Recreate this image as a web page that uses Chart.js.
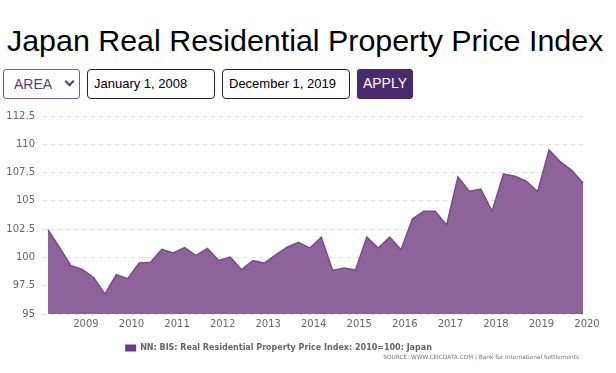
<!DOCTYPE html>
<html>
<head>
<meta charset="utf-8">
<script src="https://cdn.jsdelivr.net/npm/chart.js@4.4.1/dist/chart.umd.min.js"></script>
<style>
  html, body { margin: 0; padding: 0; background: #fff; }
  body { width: 616px; height: 373px; position: relative; overflow: hidden; font-family: "Liberation Sans", Arial, sans-serif; }
  .title { position: absolute; left: 7px; top: 25px; font-size: 30.4px; line-height: 1; color: #000; white-space: nowrap; }
  .ctl { position: absolute; top: 69px; height: 30px; box-sizing: border-box; font-size: 13px; line-height: 28px; white-space: nowrap; }
  .select { left: 3px; width: 77px; border: 1px solid #7a5a96; border-radius: 3px; color: #5b3a7c; padding-left: 10px; font-size: 14px; }
  .select .chev { position: absolute; left: 62px; top: 8px; width: 5px; height: 5px; border-right: 2.5px solid #5b3a7c; border-bottom: 2.5px solid #5b3a7c; transform: rotate(45deg); }
  .date { border: 1px solid #222; border-radius: 4px; color: #000; padding-left: 6px; }
  .d1 { left: 87px; width: 128px; }
  .d2 { left: 222px; width: 128px; }
  .apply { left: 357px; width: 56px; background: #4a2a6c; color: #fff; border-radius: 3px; text-align: center; font-size: 14px; }
  #wrap { position: absolute; left: 0; top: 100px; width: 616px; height: 262px; }
  .source { position: absolute; right: 37px; top: 354px; font-family: "DejaVu Sans", sans-serif; font-size: 5.8px; color: #777; white-space: nowrap; }
</style>
</head>
<body>
<div class="title">Japan Real Residential Property Price Index</div>
<div class="ctl select">AREA<span class="chev"></span></div>
<div class="ctl date d1">January 1, 2008</div>
<div class="ctl date d2">December 1, 2019</div>
<div class="ctl apply">APPLY</div>
<div id="wrap"><canvas id="chart"></canvas></div>
<div class="source">SOURCE: WWW.CEICDATA.COM | Bank for International Settlements</div>
<script>
// quarter-end months, 2008Q1 .. 2019Q4
const DATES = [
  '2008-03', '2008-06', '2008-09', '2008-12',
  '2009-03', '2009-06', '2009-09', '2009-12',
  '2010-03', '2010-06', '2010-09', '2010-12',
  '2011-03', '2011-06', '2011-09', '2011-12',
  '2012-03', '2012-06', '2012-09', '2012-12',
  '2013-03', '2013-06', '2013-09', '2013-12',
  '2014-03', '2014-06', '2014-09', '2014-12',
  '2015-03', '2015-06', '2015-09', '2015-12',
  '2016-03', '2016-06', '2016-09', '2016-12',
  '2017-03', '2017-06', '2017-09', '2017-12',
  '2018-03', '2018-06', '2018-09', '2018-12',
  '2019-03', '2019-06', '2019-09', '2019-12',
];

const INDEX_VALUES = [
  102.45, 100.9, 99.3, 98.95,
  98.23, 96.77, 98.47, 98.13,
  99.5, 99.57, 100.72, 100.4,
  100.86, 100.17, 100.8, 99.73,
  100.02, 98.92, 99.73, 99.5,
  100.22, 100.9, 101.33, 100.82,
  101.78, 98.85, 99.07, 98.9,
  101.8, 100.82, 101.79, 100.68,
  103.39, 104.09, 104.09, 102.86,
  107.11, 105.86, 106.04, 104.09,
  107.38, 107.17, 106.74, 105.83,
  109.5, 108.45, 107.7, 106.56,
];

const YEAR_TICKS = [2009, 2010, 2011, 2012, 2013, 2014, 2015, 2016, 2017, 2018, 2019, 2020];
const SERIES_LABEL = 'NN: BIS: Real Residential Property Price Index: 2010=100: Japan';

const FILL = '#8e6399';
const LINE = '#7a4a8e';
const LEGEND_BOX = '#6d3a8b';

// 'YYYY-MM' -> decimal year
function toYear(d) {
  const [y, m] = d.split('-').map(Number);
  return y + (m - 1) / 12;
}

// nudge the legend left, as in the original layout
const legendShift = {
  id: 'legendShift',
  afterLayout(chart) {
    chart.legend.left -= 15;
    chart.legend.right -= 15;
  },
};

new Chart(document.getElementById('chart'), {
  type: 'line',
  data: {
    datasets: [{
      label: SERIES_LABEL,
      data: DATES.map((d, i) => ({ x: toYear(d), y: INDEX_VALUES[i] })),
      borderColor: LINE,
      backgroundColor: FILL,
      borderWidth: 1.5,
      fill: 'start',
      pointRadius: 0,
      tension: 0,
    }],
  },
  options: {
    responsive: true,
    maintainAspectRatio: false,
    animation: false,
    layout: { padding: { top: 16, right: 29, left: 0, bottom: 0 } },
    plugins: {
      tooltip: { enabled: false },
      legend: {
        position: 'bottom',
        labels: {
          color: '#666',
          boxWidth: 11,
          boxHeight: 7,
          padding: 10,
          font: { family: 'DejaVu Sans', size: 8, weight: 'bold' },
          generateLabels: (chart) => Chart.defaults.plugins.legend.labels.generateLabels(chart)
            .map((l) => ({ ...l, fillStyle: LEGEND_BOX, strokeStyle: LEGEND_BOX, lineWidth: 0 })),
        },
      },
    },
    scales: {
      x: {
        type: 'linear',
        min: 2008.057,
        max: 2020,
        afterBuildTicks: (s) => { s.ticks = YEAR_TICKS.map((v) => ({ value: v })); },
        ticks: {
          color: '#666',
          padding: 4,
          maxRotation: 0,
          autoSkip: false,
          font: { family: 'DejaVu Sans', size: 10 },
          callback: (v) => String(v),
        },
        grid: { display: false, drawTicks: false },
        border: { display: false },
      },
      y: {
        min: 95,
        max: 112.5,
        afterFit: (s) => { s.width = 43; },
        ticks: {
          stepSize: 2.5,
          color: '#666',
          padding: 8,
          font: { family: 'DejaVu Sans', size: 10 },
        },
        grid: { color: '#e2e2e2', drawTicks: false },
        border: { display: false, dash: [4, 4] },
      },
    },
  },
  plugins: [legendShift],
});
</script>
</body>
</html>
